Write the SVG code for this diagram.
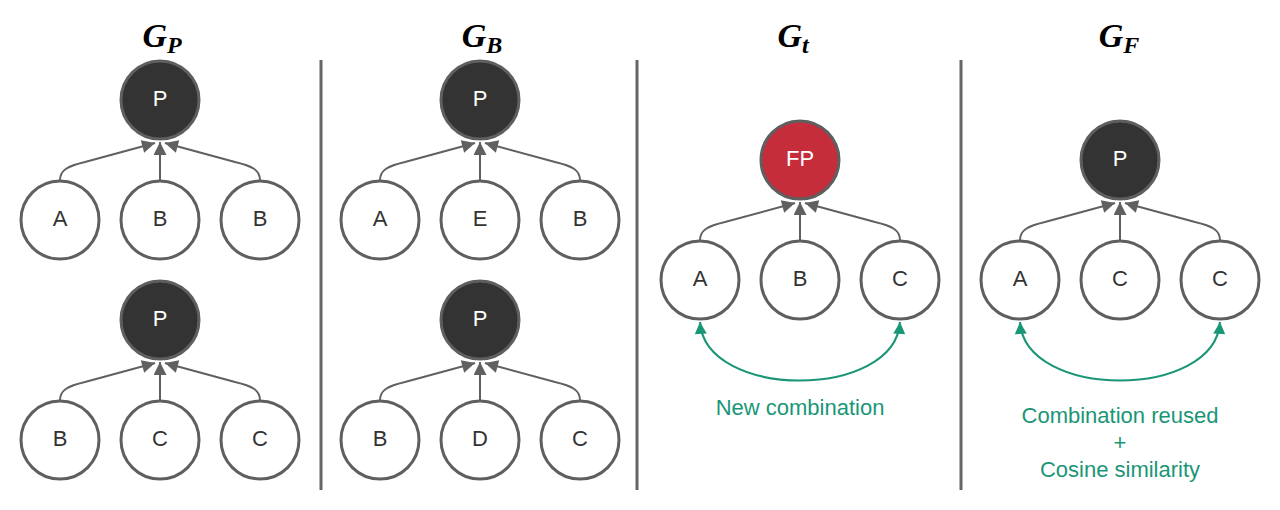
<svg xmlns="http://www.w3.org/2000/svg" width="1280" height="510" viewBox="0 0 1280 510">
<defs>
<style>
.node circle{stroke:#5f5f5f;stroke-width:3}
.w circle{fill:#fff}
.d circle{fill:#333333}
.r circle{fill:#c62d3a}
.node text{font-family:"Liberation Sans",Arial,sans-serif;font-size:22px;text-anchor:middle;dominant-baseline:central}
.w text{fill:#333}
.d text,.r text{fill:#fff}
.e{fill:none;stroke:#606060;stroke-width:2;marker-end:url(#ah)}
.g{fill:none;stroke:#1a9677;stroke-width:2.2;marker-start:url(#gs);marker-end:url(#ge)}
.div{stroke:#666;stroke-width:3}
.title{font-family:"Liberation Serif","Times New Roman",serif;font-style:italic;font-weight:bold;fill:#000;text-anchor:middle}
.lbl{font-family:"Liberation Sans",Arial,sans-serif;font-size:22px;fill:#1a9677;text-anchor:middle}
</style>
<marker id="ah" viewBox="0 0 10 10" refX="10" refY="5" markerWidth="14" markerHeight="13" markerUnits="userSpaceOnUse" orient="auto"><path d="M0,0 L10,5 L0,10 z" fill="#606060"/></marker>
<marker id="ge" viewBox="0 0 10 10" refX="10" refY="5" markerWidth="14" markerHeight="12" markerUnits="userSpaceOnUse" orient="auto"><path d="M0,0 L10,5 L0,10 z" fill="#1a9677"/></marker>
<marker id="gs" viewBox="0 0 10 10" refX="10" refY="5" markerWidth="14" markerHeight="12" markerUnits="userSpaceOnUse" orient="auto-start-reverse"><path d="M0,0 L10,5 L0,10 z" fill="#1a9677"/></marker>
</defs>
<rect width="1280" height="510" fill="#fff"/>

<g id="titles">
<text class="title" x="162" y="47" font-size="34">G<tspan font-size="24" dy="6">P</tspan></text>
<text class="title" x="482" y="47" font-size="34">G<tspan font-size="24" dy="6">B</tspan></text>
<text class="title" x="793" y="47" font-size="34">G<tspan font-size="24" dy="6">t</tspan></text>
<text class="title" x="1119" y="47" font-size="34">G<tspan font-size="24" dy="6">F</tspan></text>
</g>

<g id="dividers">
<line class="div" x1="321" y1="60" x2="321" y2="490"/>
<line class="div" x1="637" y1="60" x2="637" y2="490"/>
<line class="div" x1="961" y1="60" x2="961" y2="490"/>
</g>

<g id="connectors">
<path class="e" d="M60,180 C60,170 68,166 85,162 L155,143"/>
<path class="e" d="M160,180 L160,142"/>
<path class="e" d="M260,180 C260,170 252,166 235,162 L165,143"/>
<path class="e" d="M60,400 C60,390 68,386 85,382 L155,363"/>
<path class="e" d="M160,400 L160,362"/>
<path class="e" d="M260,400 C260,390 252,386 235,382 L165,363"/>
<path class="e" d="M380,180 C380,170 388,166 405,162 L475,143"/>
<path class="e" d="M480,180 L480,142"/>
<path class="e" d="M580,180 C580,170 572,166 555,162 L485,143"/>
<path class="e" d="M380,400 C380,390 388,386 405,382 L475,363"/>
<path class="e" d="M480,400 L480,362"/>
<path class="e" d="M580,400 C580,390 572,386 555,382 L485,363"/>
<path class="e" d="M700,240 C700,230 708,226 725,222 L795,203"/>
<path class="e" d="M800,240 L800,202"/>
<path class="e" d="M900,240 C900,230 892,226 875,222 L805,203"/>
<path class="e" d="M1020,240 C1020,230 1028,226 1045,222 L1115,203"/>
<path class="e" d="M1120,240 L1120,202"/>
<path class="e" d="M1220,240 C1220,230 1212,226 1195,222 L1125,203"/>
<path class="g" d="M700,322 C705,400 895,400 900,322"/>
<path class="g" d="M1020,322 C1025,400 1215,400 1220,322"/>
</g>

<g id="n1" class="node d"><circle cx="160" cy="100" r="39"/><text x="160" y="98">P</text></g>
<g id="n2" class="node w"><circle cx="60" cy="220" r="39"/><text x="60" y="218">A</text></g>
<g id="n3" class="node w"><circle cx="160" cy="220" r="39"/><text x="160" y="218">B</text></g>
<g id="n4" class="node w"><circle cx="260" cy="220" r="39"/><text x="260" y="218">B</text></g>
<g id="n5" class="node d"><circle cx="160" cy="320" r="39"/><text x="160" y="318">P</text></g>
<g id="n6" class="node w"><circle cx="60" cy="440" r="39"/><text x="60" y="438">B</text></g>
<g id="n7" class="node w"><circle cx="160" cy="440" r="39"/><text x="160" y="438">C</text></g>
<g id="n8" class="node w"><circle cx="260" cy="440" r="39"/><text x="260" y="438">C</text></g>

<g id="n9" class="node d"><circle cx="480" cy="100" r="39"/><text x="480" y="98">P</text></g>
<g id="n10" class="node w"><circle cx="380" cy="220" r="39"/><text x="380" y="218">A</text></g>
<g id="n11" class="node w"><circle cx="480" cy="220" r="39"/><text x="480" y="218">E</text></g>
<g id="n12" class="node w"><circle cx="580" cy="220" r="39"/><text x="580" y="218">B</text></g>
<g id="n13" class="node d"><circle cx="480" cy="320" r="39"/><text x="480" y="318">P</text></g>
<g id="n14" class="node w"><circle cx="380" cy="440" r="39"/><text x="380" y="438">B</text></g>
<g id="n15" class="node w"><circle cx="480" cy="440" r="39"/><text x="480" y="438">D</text></g>
<g id="n16" class="node w"><circle cx="580" cy="440" r="39"/><text x="580" y="438">C</text></g>

<g id="n17" class="node r"><circle cx="800" cy="160" r="39"/><text x="800" y="158">FP</text></g>
<g id="n18" class="node w"><circle cx="700" cy="280" r="39"/><text x="700" y="278">A</text></g>
<g id="n19" class="node w"><circle cx="800" cy="280" r="39"/><text x="800" y="278">B</text></g>
<g id="n20" class="node w"><circle cx="900" cy="280" r="39"/><text x="900" y="278">C</text></g>

<g id="n21" class="node d"><circle cx="1120" cy="160" r="39"/><text x="1120" y="158">P</text></g>
<g id="n22" class="node w"><circle cx="1020" cy="280" r="39"/><text x="1020" y="278">A</text></g>
<g id="n23" class="node w"><circle cx="1120" cy="280" r="39"/><text x="1120" y="278">C</text></g>
<g id="n24" class="node w"><circle cx="1220" cy="280" r="39"/><text x="1220" y="278">C</text></g>

<g id="labels">
<text class="lbl" x="800" y="415">New combination</text>
<text class="lbl" x="1120" y="423">Combination reused</text>
<text class="lbl" x="1120" y="450">+</text>
<text class="lbl" x="1120" y="477">Cosine similarity</text>
</g>
</svg>
